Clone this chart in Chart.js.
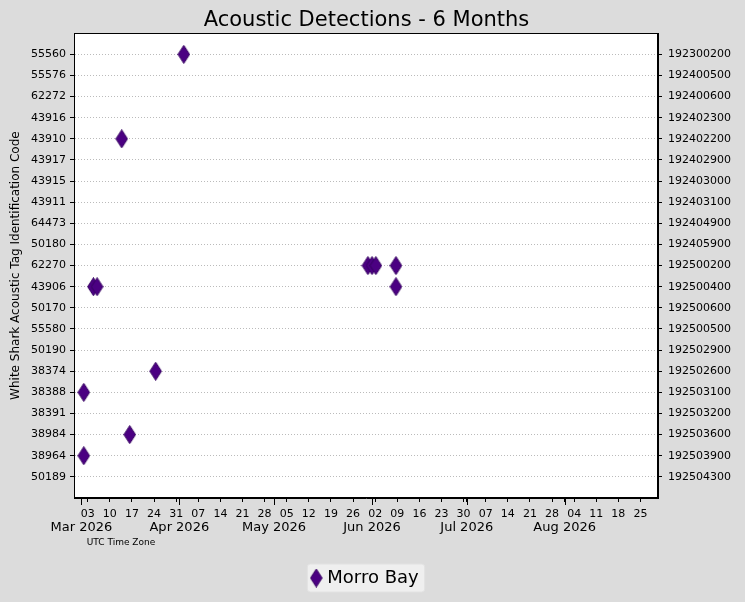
<!DOCTYPE html>
<html>
<head>
<meta charset="utf-8">
<title>Acoustic Detections - 6 Months</title>
<script src="https://cdn.jsdelivr.net/npm/chart.js@4.4.1/dist/chart.umd.min.js"></script>
<style>
  html, body { margin: 0; padding: 0; background: #dcdcdc; }
  canvas { display: block; }
</style>
</head>
<body>
<canvas id="detectionsChart" width="745" height="602"></canvas>
<script>
// tag codes (left axis) and tag ids (right axis), top to bottom
const tagCodes = ['55560', '55576', '62272', '43916', '43910', '43917', '43915', '43911', '64473', '50180',
  '62270', '43906', '50170', '55580', '50190', '38374', '38388', '38391', '38984', '38964', '50189'];
const tagIds = ['192300200', '192400500', '192400600', '192402300', '192402200', '192402900', '192403000',
  '192403100', '192404900', '192405900', '192500200', '192500400', '192500600', '192500500', '192502900',
  '192502600', '192503100', '192503200', '192503600', '192503900', '192504300'];

// detections at Morro Bay (UTC)
const detectionTimes = ['2026-03-01T18:00', '2026-03-01T18:00', '2026-03-04T19:00', '2026-03-05T23:00',
  '2026-03-13T18:00', '2026-03-16T07:00', '2026-03-24T12:00', '2026-04-02T10:00', '2026-05-30T17:00',
  '2026-06-01T00:00', '2026-06-02T05:00', '2026-06-08T14:00', '2026-06-08T14:00'];
const detectionCodes = ['38388', '38964', '43906', '43906', '43910', '38984', '38374', '55560', '62270',
  '62270', '62270', '62270', '43906'];

// x axis
const xStart = '2026-02-26T15:36';
const xEnd = '2026-08-30T13:12';
const monthTickDates = ['2026-03-01', '2026-04-01', '2026-05-01', '2026-06-01', '2026-07-01', '2026-08-01'];
const monthTickLabels = ['Mar 2026', 'Apr 2026', 'May 2026', 'Jun 2026', 'Jul 2026', 'Aug 2026'];
const firstWeekTick = '2026-03-03';
const lastWeekTick = '2026-08-25';

const origin = Date.parse('2026-03-01T00:00Z');
function toDay(s) {
  if (s.indexOf('T') < 0) s += 'T00:00';
  return (Date.parse(s + 'Z') - origin) / 86400000;
}

const monthDays = monthTickDates.map(toDay);
const weekDays = [];
for (let d = toDay(firstWeekTick); d <= toDay(lastWeekTick); d += 7) weekDays.push(d);
const xTickValues = monthDays.concat(weekDays).sort((a, b) => a - b);

function weekLabel(d) {
  const dt = new Date(origin + d * 86400000);
  return String(dt.getUTCDate()).padStart(2, '0');
}

// diamond marker
function makeDiamond() {
  const c = document.createElement('canvas');
  c.width = 13;
  c.height = 19;
  const g = c.getContext('2d');
  g.beginPath();
  g.moveTo(6.5, 0.5);
  g.lineTo(12.3, 9.5);
  g.lineTo(6.5, 18.5);
  g.lineTo(0.7, 9.5);
  g.closePath();
  g.fillStyle = '#4b0082';
  g.fill();
  g.strokeStyle = '#360060';
  g.lineWidth = 1;
  g.stroke();
  return c;
}
const diamond = makeDiamond();

const points = detectionTimes.map((t, i) => ({ x: toDay(t), y: tagCodes.indexOf(detectionCodes[i]) }));

const FONT = 'DejaVu Sans';
const PLOT_BOTTOM_SPACE = 104;
const LAYOUT_PAD_BOTTOM = 5;

const framePlugin = {
  id: 'frame',
  beforeDraw(chart) {
    const { ctx, chartArea: a } = chart;
    ctx.save();
    ctx.fillStyle = '#dcdcdc';
    ctx.fillRect(0, 0, chart.width, chart.height);
    ctx.fillStyle = '#ffffff';
    ctx.fillRect(a.left, a.top, a.right - a.left, a.bottom - a.top);
    // legend frame
    const hb = chart.legend && chart.legend.legendHitBoxes && chart.legend.legendHitBoxes[0];
    if (hb) {
      const x0 = hb.left - 7, x1 = hb.left + hb.width + 6;
      const cy = hb.top + hb.height / 2;
      const y0 = cy - 14, y1 = cy + 14;
      ctx.beginPath();
      ctx.roundRect(x0, y0, x1 - x0, y1 - y0, 3);
      ctx.fillStyle = '#efefef';
      ctx.fill();
      ctx.strokeStyle = '#e2e2e2';
      ctx.lineWidth = 1;
      ctx.stroke();
    }
    ctx.restore();
  },
  afterDraw(chart) {
    const { ctx, chartArea: a } = chart;
    const xs = chart.scales.x;
    ctx.save();
    ctx.strokeStyle = '#000';
    ctx.lineWidth = 1;
    ctx.strokeRect(Math.round(a.left) + 0.5, Math.round(a.top) + 0.5,
      Math.round(a.right - a.left) - 1, Math.round(a.bottom - a.top) - 1);
    // longer month ticks
    ctx.beginPath();
    monthDays.forEach(d => {
      const px = Math.round(xs.getPixelForValue(d)) + 0.5;
      ctx.moveTo(px, a.bottom);
      ctx.lineTo(px, a.bottom + 7);
    });
    ctx.stroke();
    ctx.fillStyle = '#000';
    ctx.font = '9px "' + FONT + '"';
    ctx.textAlign = 'center';
    ctx.textBaseline = 'middle';
    ctx.fillText('UTC Time Zone', 121, 543);
    ctx.restore();
  }
};

new Chart(document.getElementById('detectionsChart'), {
  type: 'scatter',
  data: {
    datasets: [{
      label: 'Morro Bay',
      data: points,
      yAxisID: 'y',
      pointStyle: diamond,
      pointRadius: 6,
      pointHoverRadius: 6,
      backgroundColor: '#4b0082',
      borderColor: '#360060'
    }]
  },
  options: {
    responsive: false,
    animation: false,
    layout: { padding: { left: 0, right: 12, top: 0, bottom: LAYOUT_PAD_BOTTOM } },
    scales: {
      x: {
        type: 'linear',
        position: 'bottom',
        min: toDay(xStart),
        max: toDay(xEnd),
        afterBuildTicks(scale) {
          scale.ticks = xTickValues.map(v => ({ value: v }));
        },
        afterFit(scale) {
          scale.height = PLOT_BOTTOM_SPACE - LAYOUT_PAD_BOTTOM - scale.chart.legend.height;
        },
        grid: { drawOnChartArea: false, tickLength: 4, tickColor: '#000', tickWidth: 1 },
        border: { color: '#000', width: 1 },
        ticks: {
          autoSkip: false,
          maxRotation: 0,
          minRotation: 0,
          padding: 3,
          color: '#000',
          font(ctx) {
            const isMonth = ctx.tick && monthDays.includes(ctx.tick.value);
            return isMonth ? { family: FONT, size: 13, lineHeight: 1.14 } : { family: FONT, size: 11, lineHeight: 1.6 };
          },
          callback(value) {
            const m = monthDays.indexOf(value);
            if (m >= 0) return ['', monthTickLabels[m]];
            return weekLabel(value);
          }
        }
      },
      y: {
        type: 'linear',
        position: 'left',
        reverse: true,
        min: -1,
        max: 21,
        afterBuildTicks(scale) {
          scale.ticks = tagCodes.map((c, i) => ({ value: i }));
        },
        afterFit(scale) { scale.width = 74; },
        grid: { color: '#aaaaaa', lineWidth: 0.8, tickLength: 4, tickColor: '#000', tickWidth: 1 },
        border: { color: '#000', width: 1, dash: [1, 2] },
        ticks: {
          padding: 4,
          color: '#000',
          font: { family: FONT, size: 11 },
          callback: value => tagCodes[value] || ''
        },
        title: {
          display: true,
          text: 'White Shark Acoustic Tag Identification Code',
          color: '#000',
          font: { family: FONT, size: 12, lineHeight: 1.2 },
          padding: { top: 8.8, bottom: 0 }
        }
      },
      y2: {
        type: 'linear',
        position: 'right',
        reverse: true,
        min: -1,
        max: 21,
        afterBuildTicks(scale) {
          scale.ticks = tagIds.map((c, i) => ({ value: i }));
        },
        afterFit(scale) { scale.width = 75; },
        grid: { drawOnChartArea: false, tickLength: 4, tickColor: '#000', tickWidth: 1 },
        border: { color: '#000', width: 1 },
        ticks: {
          padding: 6,
          color: '#000',
          font: { family: FONT, size: 11 },
          callback: value => tagIds[value] || ''
        }
      }
    },
    plugins: {
      title: {
        display: true,
        text: 'Acoustic Detections - 6 Months',
        color: '#000',
        font: { family: FONT, size: 21, weight: 'normal', lineHeight: 1.2 },
        padding: { top: 8, bottom: 0 }
      },
      legend: {
        position: 'bottom',
        labels: {
          usePointStyle: true,
          pointStyleWidth: 4,
          padding: 10,
          color: '#000',
          font: { family: FONT, size: 18 }
        }
      },
      tooltip: { enabled: false }
    }
  },
  plugins: [framePlugin]
});
</script>
</body>
</html>
